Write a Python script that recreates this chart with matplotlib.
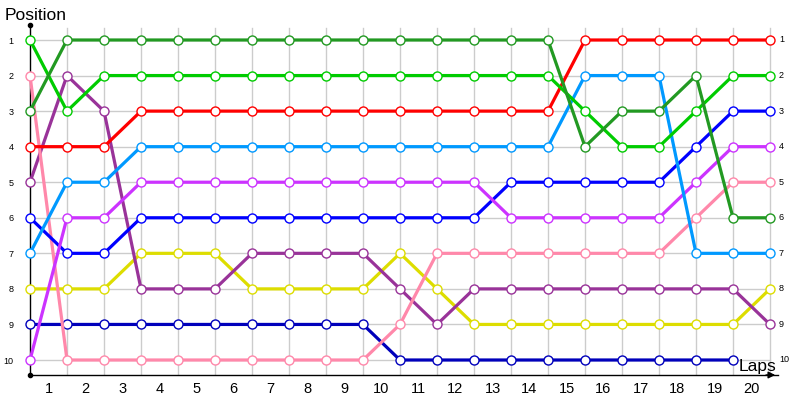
import matplotlib
matplotlib.use("Agg")
import matplotlib.pyplot as plt

plt.rcParams['font.family'] = ['Liberation Sans', 'DejaVu Sans']

lap_labels = [str(i) for i in range(1, 21)]
position_labels = [str(i) for i in range(1, 11)]

dark_green = [3, 1, 1, 1, 1, 1, 1, 1, 1, 1, 1, 1, 1, 1, 1, 4, 3, 3, 2, 6, 6]
light_green = [1, 3, 2, 2, 2, 2, 2, 2, 2, 2, 2, 2, 2, 2, 2, 3, 4, 4, 3, 2, 2]
red = [4, 4, 4, 3, 3, 3, 3, 3, 3, 3, 3, 3, 3, 3, 3, 1, 1, 1, 1, 1, 1]
light_blue = [7, 5, 5, 4, 4, 4, 4, 4, 4, 4, 4, 4, 4, 4, 4, 2, 2, 2, 7, 7, 7]
violet = [10, 6, 6, 5, 5, 5, 5, 5, 5, 5, 5, 5, 5, 6, 6, 6, 6, 6, 5, 4, 4]
blue = [6, 7, 7, 6, 6, 6, 6, 6, 6, 6, 6, 6, 6, 5, 5, 5, 5, 5, 4, 3, 3]
pink = [2, 10, 10, 10, 10, 10, 10, 10, 10, 10, 9, 7, 7, 7, 7, 7, 7, 7, 6, 5, 5]
purple = [5, 2, 3, 8, 8, 8, 7, 7, 7, 7, 8, 9, 8, 8, 8, 8, 8, 8, 8, 8, 9]
yellow = [8, 8, 8, 7, 7, 7, 8, 8, 8, 8, 7, 8, 9, 9, 9, 9, 9, 9, 9, 9, 8]
navy = [9, 9, 9, 9, 9, 9, 9, 9, 9, 9, 10, 10, 10, 10, 10, 10, 10, 10, 10, 10]

series = [
    (navy, '#0000BB'),
    (yellow, '#DDDD00'),
    (purple, '#993399'),
    (pink, '#FF88AA'),
    (blue, '#0000FF'),
    (violet, '#CC33FF'),
    (light_blue, '#0099FF'),
    (red, '#FF0000'),
    (light_green, '#00CC00'),
    (dark_green, '#229922'),
]

W, H = 800, 400
fig = plt.figure(figsize=(8, 4), dpi=100)
ax_left, ax_right, ax_top, ax_bottom = 30, 778, 25, 375
ax = fig.add_axes([ax_left / W, (H - ax_bottom) / H,
                   (ax_right - ax_left) / W, (ax_bottom - ax_top) / H])

px_per_lap = 37.0
px_per_pos = (360 - 40) / 9.0
x_max = (ax_right - ax_left) / px_per_lap
y_top = 1 - (40 - ax_top) / px_per_pos
y_bot = 10 + (ax_bottom - 360) / px_per_pos
ax.set_xlim(0, x_max)
ax.set_ylim(y_bot, y_top)

# grid
n_points = len(lap_labels) + 1
for i in range(1, n_points):
    ax.axvline(i, ymin=0, ymax=(ax_bottom - 28) / (ax_bottom - ax_top),
               color='#CCCCCC', lw=1, zorder=0)
for p in range(1, len(position_labels) + 1):
    ax.plot([0, n_points - 1], [p, p], color='#CCCCCC', lw=1, zorder=0)

for vals, col in series:
    xs = list(range(len(vals)))
    ax.plot(xs, vals, color=col, lw=2.3, marker='o', markersize=6.5,
            markerfacecolor='white', markeredgecolor=col, markeredgewidth=1,
            zorder=3, clip_on=False)

for s in ['top', 'right']:
    ax.spines[s].set_visible(False)
ax.spines['left'].set_color('black')
ax.spines['bottom'].set_color('black')
ax.spines['left'].set_linewidth(1)
ax.spines['bottom'].set_linewidth(1)

# axis dots and arrow
ax.plot([0], [y_top], marker='o', color='black', markersize=3, clip_on=False, zorder=5)
ax.plot([0], [y_bot], marker='o', color='black', markersize=3, clip_on=False, zorder=5)
ax.annotate('', xy=(x_max, y_bot), xytext=(x_max - 0.4, y_bot),
            arrowprops=dict(arrowstyle='-|>', color='black', lw=1,
                            mutation_scale=10), annotation_clip=False)

# ticks
ax.set_xticks([i + 0.5 for i in range(len(lap_labels))])
ax.set_xticklabels(lap_labels, fontsize=10.5)
ax.set_yticks(range(1, len(position_labels) + 1))
ax.set_yticklabels(position_labels, fontsize=6.5)
ax.tick_params(axis='both', length=0)
ax.tick_params(axis='x', pad=5)
ax.tick_params(axis='y', pad=12)

# right-side labels
for p, lab in enumerate(position_labels, start=1):
    ax.text(n_points - 1 + 0.24, p, lab, fontsize=6.5, ha='left', va='center',
            clip_on=False)

fig.text(5 / W, 1 - 16 / H, 'Position', fontsize=12.5, ha='left', va='center')
fig.text(739 / W, 1 - 367 / H, 'Laps', fontsize=12.5, ha='left', va='center')

fig.savefig('out.png', dpi=100)
